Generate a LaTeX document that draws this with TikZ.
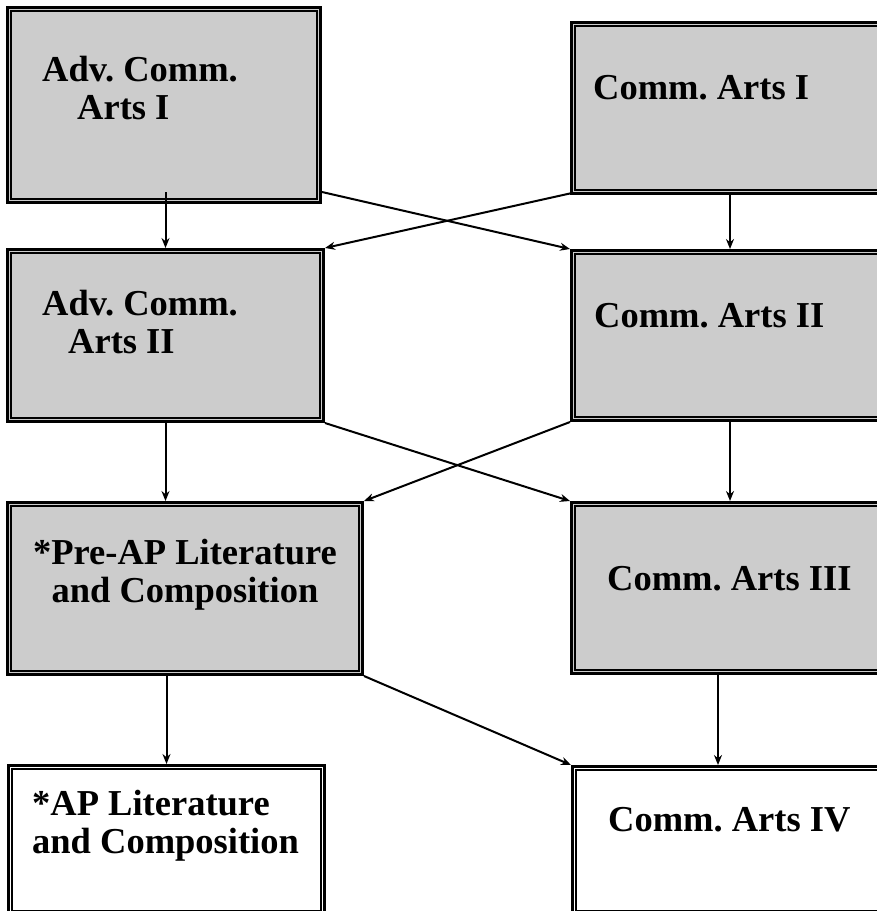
\documentclass[tikz,border=0pt]{standalone}
\usepackage{fontspec}
\setmainfont{Liberation Serif}
\usetikzlibrary{calc,arrows.meta}
\tikzset{
  every picture/.style={font={\bfseries\fontsize{36.5pt}{38pt}\selectfont\frenchspacing},
    >={Stealth[length=10pt,width=8pt]}}}

\begin{document}
\begin{tikzpicture}[x=1pt, y=-1pt,
    course/.style={
      draw, fill=gray!40, line width=3pt,
      inner sep=0pt, outer sep=1.5pt, anchor=north west},
    finalcourse/.style={course, fill=white},
    innerline/.style={line width=1.6pt},
    coursetext/.style={inner sep=0pt, align=left, anchor=base west},
    link/.style={->, line width=2pt}]

    \useasboundingbox (0,0) rectangle (877,911);
    \clip (0,0) rectangle (877,911);

    % advanced track (left) and regular track (right)
    \node[course, minimum width=313, minimum height=195] (A1) at (6,6) {};
    \node[course, minimum width=317, minimum height=171] (C1) at (570,21) {};
    \node[course, minimum width=316, minimum height=172] (A2) at (6,248) {};
    \node[course, minimum width=317, minimum height=170] (C2) at (570,249) {};
    \node[course, minimum width=355, minimum height=172] (A3) at (6,501) {};
    \node[course, minimum width=317, minimum height=171] (C3) at (570,501) {};
    \node[finalcourse, minimum width=316, minimum height=149] (A4) at (7,764) {};
    \node[finalcourse, minimum width=317, minimum height=148] (C4) at (571,765) {};
    \coordinate (C4in) at (718,765);

    % second, thinner frame inside each box
    \foreach \c in {A1,C1,A2,C2,A3,C3,A4,C4}
      \draw[innerline] ($(\c.north west)+(5.1,5.1)$) rectangle ($(\c.south east)+(-5.1,-5.1)$);

    \node[coursetext] (A1text) at ([shift={(36,113)}]A1.north west) {Adv. Comm.\\\hspace*{35pt}Arts I};
    \node[coursetext] (C1text) at ([shift={(23,78)}]C1.north west) {Comm. Arts I};
    \node[coursetext] (A2text) at ([shift={(36,105)}]A2.north west) {Adv. Comm.\\\hspace*{26pt}Arts II};
    \node[coursetext] (C2text) at ([shift={(24,78)}]C2.north west) {Comm. Arts II};
    \node[coursetext, anchor=base, align=center] (A3text) at ([shift={(0,101)}]A3.north) {*Pre-AP Literature\\and Composition};
    \node[coursetext] (C3text) at ([shift={(37,89)}]C3.north west) {Comm. Arts III};
    \node[coursetext] (A4text) at ([shift={(25,89)}]A4.north west) {*AP Literature\\and Composition};
    \node[coursetext] (C4text) at ([shift={(37,66)}]C4.north west) {Comm. Arts IV};

    % straight down
    \draw[link] ($(A1.south -| A2.north)+(0,-12)$) -- (A2.north);
    \draw[link] ($(C1.south)+(0,-3)$) -- (C2.north);
    \draw[link] (A2.south) -- (A2.south |- A3.north);
    \draw[link] (C2.south) -- (C3.north);
    \draw[link] ($(A3.south -| A4.north)+(0,-3)$) -- (A4.north);
    \draw[link] ($(C3.south -| C4in)+(0,-3)$) -- (C4in);

    % crossing over
    \draw[link] ($(A1.south east)+(0,-12)$) -- (C2.north west);
    \draw[link] ($(C1.south west)+(2,-2)$) -- (A2.north east);
    \draw[link] (A2.south east) -- (C3.north west);
    \draw[link] (C2.south west) -- (A3.north east);
    \draw[link] (A3.south east) -- (C4.north west);
\end{tikzpicture}
\end{document}
